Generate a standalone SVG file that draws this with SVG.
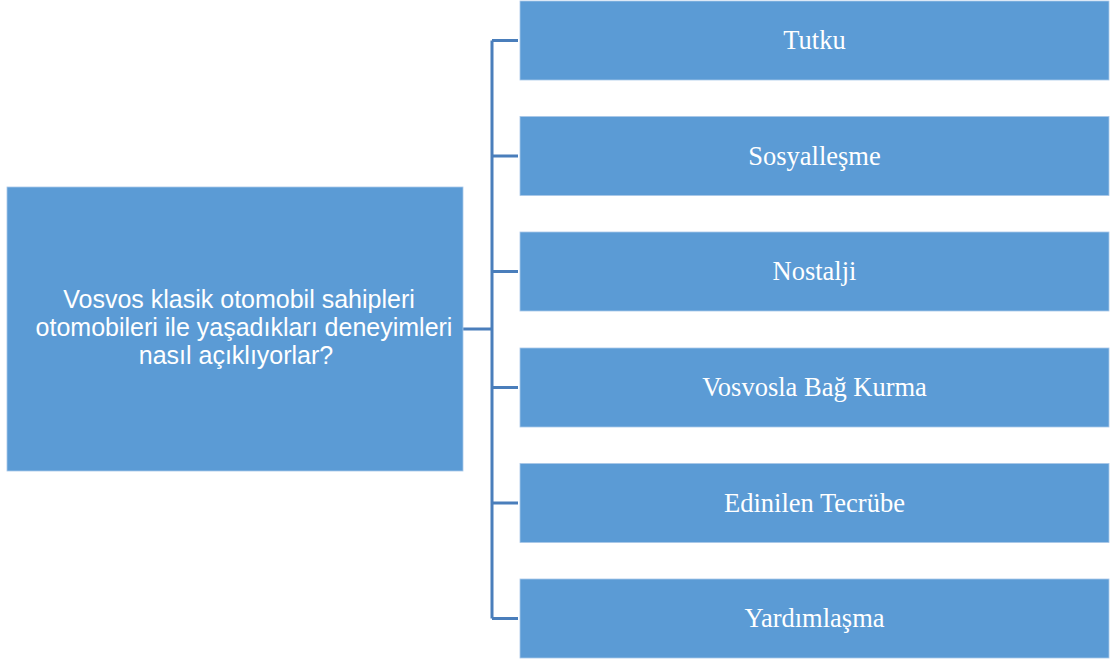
<svg xmlns="http://www.w3.org/2000/svg" width="1113" height="664" viewBox="0 0 1113 664">
<style>
.box{fill:#5B9BD5;stroke:#A9C7E8;stroke-width:0.8}
.lt{font-family:"Liberation Sans",Arial,sans-serif;font-size:25px;fill:#fff;text-anchor:middle}
.rt{font-family:"Liberation Serif","Times New Roman",serif;font-size:26.5px;fill:#fff;text-anchor:middle}
.cn{stroke:#4A7EBB;stroke-width:3;fill:none}
</style>
<rect width="1113" height="664" fill="#fff"/>
<g id="connectors">
<path class="cn" d="M463 329H492M492 40.5V618.5M492 40.5H518M492 156H518M492 271.5H518M492 387.5H518M492 503H518M492 618.5H518"/>
</g>
<g id="root"><rect class="box" x="7" y="187" width="456" height="284"/>
<text class="lt" x="239" y="308">Vosvos klasik otomobil sahipleri</text>
<text class="lt" x="244" y="336">otomobileri ile yaşadıkları deneyimleri</text>
<text class="lt" x="236" y="364">nasıl açıklıyorlar?</text></g>
<g id="n1"><rect class="box" x="520" y="1" width="589" height="79"/><text class="rt" x="814.5" y="49">Tutku</text></g>
<g id="n2"><rect class="box" x="520" y="116.5" width="589" height="79"/><text class="rt" x="814.5" y="164.5">Sosyalleşme</text></g>
<g id="n3"><rect class="box" x="520" y="232" width="589" height="79"/><text class="rt" x="814.5" y="280">Nostalji</text></g>
<g id="n4"><rect class="box" x="520" y="348" width="589" height="79"/><text class="rt" x="814.5" y="396">Vosvosla Bağ Kurma</text></g>
<g id="n5"><rect class="box" x="520" y="463.5" width="589" height="79"/><text class="rt" x="814.5" y="511.5">Edinilen Tecrübe</text></g>
<g id="n6"><rect class="box" x="520" y="579" width="589" height="79"/><text class="rt" x="814.5" y="627">Yardımlaşma</text></g>
</svg>
